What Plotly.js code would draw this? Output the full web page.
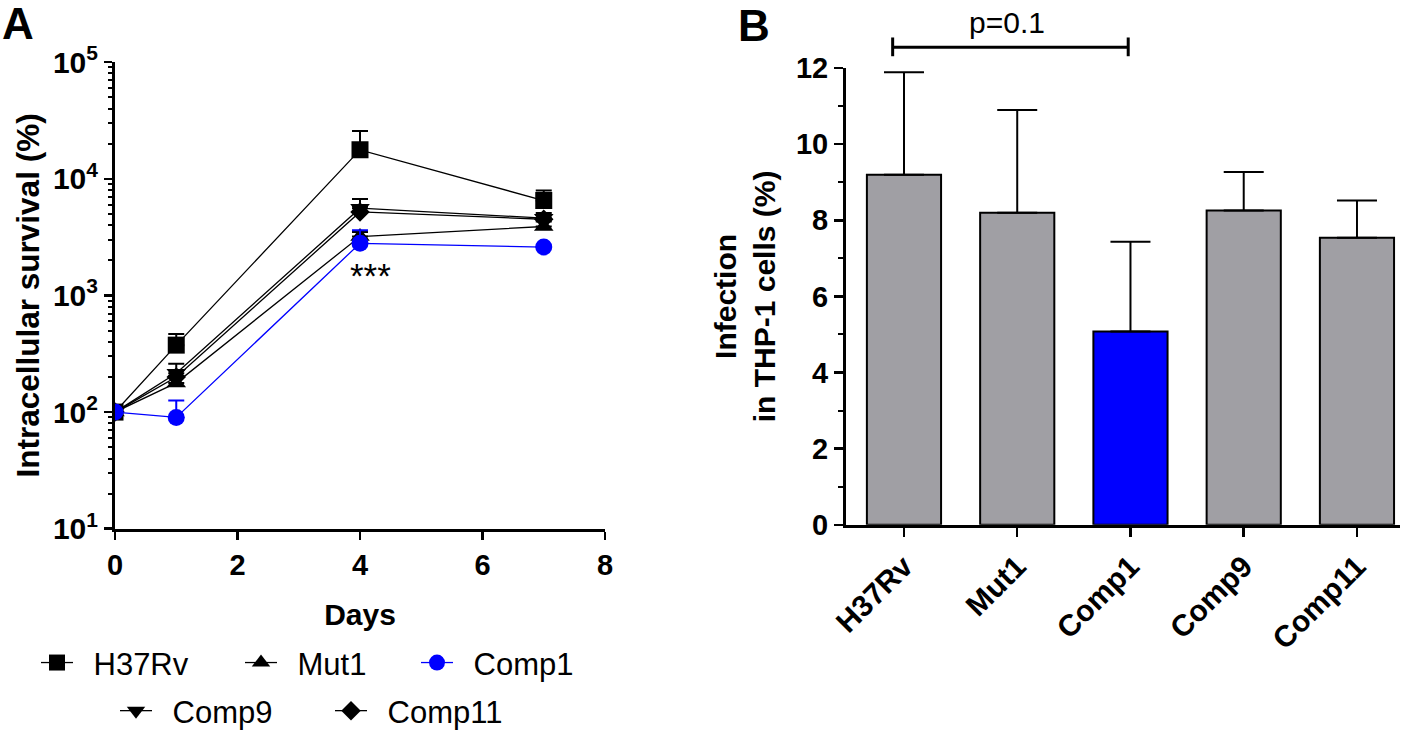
<!DOCTYPE html>
<html>
<head>
<meta charset="utf-8">
<script src="https://cdn.plot.ly/plotly-3.0.1.min.js"></script>
<style>html,body{margin:0;padding:0;background:#fff;}#chart{width:1418px;height:738px;}</style>
</head>
<body>
<div id="chart"></div>
<script>
// ---------- Panel A data (intracellular survival, %) ----------
const days = [0, 1, 4, 7];
const seriesNames = ['H37Rv', 'Mut1', 'Comp1', 'Comp9', 'Comp11'];
const h37rv      = [100, 375, 17700, 6500];
const h37rvErr   = [0, 93, 8000, 1450];
const mut1       = [100, 178, 3200, 3900];
const mut1Err    = [0, 25, 300, 400];
const comp1      = [100, 90, 2800, 2600];
const comp1Err   = [0, 36, 820, 0];
const comp9      = [100, 215, 5600, 4600];
const comp9Err   = [0, 45, 1100, 500];
const comp11     = [100, 200, 5200, 4500];
const comp11Err  = [0, 30, 600, 400];
const logTickVals = [10, 100, 1000, 10000, 100000];
const logTickText = ['10<sup>1</sup>', '10<sup>2</sup>', '10<sup>3</sup>', '10<sup>4</sup>', '10<sup>5</sup>'];
const dayTicks = [0, 2, 4, 6, 8];

// ---------- Panel B data (infection in THP-1 cells, %) ----------
const strains = ['H37Rv', 'Mut1', 'Comp1', 'Comp9', 'Comp11'];
const infection = [9.2, 8.2, 5.08, 8.26, 7.54];
const infectionErr = [2.69, 2.7, 2.36, 1.01, 0.98];

const W = 1418, H = 738;
const FONT = 'Liberation Sans, Arial, sans-serif';
const BLUE = '#0000ff', GREY = '#a09fa4';

const valuesA = [h37rv, mut1, comp1, comp9, comp11];
const errsA = [h37rvErr, mut1Err, comp1Err, comp9Err, comp11Err];
const symbols = ['square', 'triangle-up', 'circle', 'triangle-down', 'diamond'];
const sizes = [17, 17, 17, 17, 15];
const legendIds = ['legend', 'legend2', 'legend3', 'legend4', 'legend5'];

const traces = [];
const order = [0, 1, 3, 4, 2];
order.forEach(i => {
  const col = seriesNames[i] === 'Comp1' ? BLUE : '#000';
  traces.push({
    type: 'scatter', mode: 'lines+markers', x: days, y: valuesA[i], name: '\u2002' + seriesNames[i],
    xaxis: 'x', yaxis: 'y', legend: legendIds[i],
    line: {color: col, width: 1.3},
    marker: {symbol: symbols[i], size: sizes[i], color: col, line: {width: 0}},
    error_y: {type: 'data', symmetric: false, array: errsA[i], arrayminus: errsA[i].map(() => 0),
              color: col, thickness: 2, width: 8}
  });
});

traces.push({
  type: 'bar', x: strains, y: infection, xaxis: 'x2', yaxis: 'y2', showlegend: false, width: 0.655,
  marker: {color: strains.map(s => s === 'Comp1' ? BLUE : GREY), line: {color: '#000', width: 2}},
  error_y: {type: 'data', symmetric: false, array: infectionErr, arrayminus: infectionErr.map(() => 0),
            color: '#000', thickness: 2, width: 20}
});

// minor tick positions for log axis
const minorLog = [];
for (let e = 1; e < 5; e++) for (let k = 2; k <= 9; k++) minorLog.push(k * Math.pow(10, e));

const tickFont = {family: FONT, size: 29, color: '#000', weight: 'bold'};
const titleFont = {family: FONT, size: 30, color: '#000', weight: 'bold'};

function leg(xpx, ypx) {
  return {x: xpx / W, y: 1 - ypx / H, xanchor: 'left', yanchor: 'middle', orientation: 'h',
          font: {family: FONT, size: 31, color: '#000'}, bgcolor: 'rgba(0,0,0,0)', borderwidth: 0,
          itemwidth: 32};
}

const layout = {
  width: W, height: H, margin: {l: 0, r: 0, t: 0, b: 0}, autosize: false,
  paper_bgcolor: '#fff', plot_bgcolor: 'rgba(0,0,0,0)',
  font: {family: FONT, color: '#000'},
  showlegend: true,
  legend: leg(36, 672), legend2: leg(240, 672), legend3: leg(416, 672),
  legend4: leg(115, 721), legend5: leg(330, 721),
  xaxis: {
    domain: [115 / W, 605 / W], range: [0, 8], tickvals: dayTicks, anchor: 'y',
    showline: true, linewidth: 3, linecolor: '#000', ticks: 'outside', ticklen: 8, tickwidth: 2.5, tickcolor: '#000',
    showgrid: false, zeroline: false, tickfont: tickFont,
    title: {text: 'Days', font: titleFont, standoff: 25}
  },
  yaxis: {
    type: 'log', domain: [1 - 536 / H, 1 - 63 / H], range: [1, 5], anchor: 'x',
    tickvals: logTickVals, ticktext: logTickText,
    showline: true, linewidth: 3, linecolor: '#000', ticks: 'outside', ticklen: 8, tickwidth: 2.5, tickcolor: '#000',
    minor: {tickvals: minorLog, ticks: 'outside', ticklen: 4, tickwidth: 2, tickcolor: '#000', showgrid: false},
    showgrid: false, zeroline: false, tickfont: {family: FONT, size: 30, color: '#000', weight: 'bold'},
    title: {text: 'Intracellular survival (%)', font: {family: FONT, size: 31.5, color: '#000', weight: 'bold'}, standoff: 4}
  },
  xaxis2: {
    domain: [846 / W, 1400 / W], type: 'category', range: [-0.512, 4.38], anchor: 'y2',
    showline: true, linewidth: 3, linecolor: '#000', ticks: 'outside', ticklen: 9, tickwidth: 2.5, tickcolor: '#000',
    showgrid: false, zeroline: false, tickfont: {family: FONT, size: 30, color: '#000', weight: 'bold'}, tickangle: -45
  },
  yaxis2: {
    domain: [1 - 532 / H, 1 - 69 / H], range: [0, 12], dtick: 2, anchor: 'x2',
    showline: true, linewidth: 3, linecolor: '#000', ticks: 'outside', ticklen: 9, tickwidth: 2.5, tickcolor: '#000',
    minor: {dtick: 1, ticks: 'outside', ticklen: 5, tickwidth: 2, tickcolor: '#000', showgrid: false},
    showgrid: false, zeroline: false, tickfont: tickFont,
    title: {text: 'Infection<br>in THP-1 cells (%)', font: titleFont, standoff: 12}
  },
  shapes: [
    {type: 'line', xref: 'x2', yref: 'paper', x0: -0.1, x1: 1.98, y0: 1 - 48 / H, y1: 1 - 48 / H, line: {color: '#000', width: 3}},
    {type: 'line', xref: 'x2', yref: 'paper', x0: -0.1, x1: -0.1, y0: 1 - 38 / H, y1: 1 - 57 / H, line: {color: '#000', width: 3}},
    {type: 'line', xref: 'x2', yref: 'paper', x0: 1.98, x1: 1.98, y0: 1 - 38 / H, y1: 1 - 57 / H, line: {color: '#000', width: 3}}
  ],
  annotations: [
    {text: 'A', xref: 'paper', yref: 'paper', x: 0, y: 1 + 3 / H, xanchor: 'left', yanchor: 'top', showarrow: false,
     font: {family: FONT, size: 44, color: '#000', weight: 'bold'}},
    {text: 'B', xref: 'paper', yref: 'paper', x: 736 / W, y: 1 + 1 / H, xanchor: 'left', yanchor: 'top', showarrow: false,
     font: {family: FONT, size: 44, color: '#000', weight: 'bold'}},
    {text: 'p=0.1', xref: 'x2', yref: 'paper', x: 0.91, y: 1 - 42 / H, xanchor: 'center', yanchor: 'bottom', showarrow: false,
     font: {family: FONT, size: 30, color: '#000'}},
    {text: '***', xref: 'x', yref: 'y', x: 4.17, y: 3.17, xanchor: 'center', yanchor: 'middle', showarrow: false,
     font: {family: FONT, size: 35, color: '#000'}}
  ]
};

Plotly.newPlot('chart', traces, layout, {displayModeBar: false, staticPlot: true});
</script>
</body>
</html>
